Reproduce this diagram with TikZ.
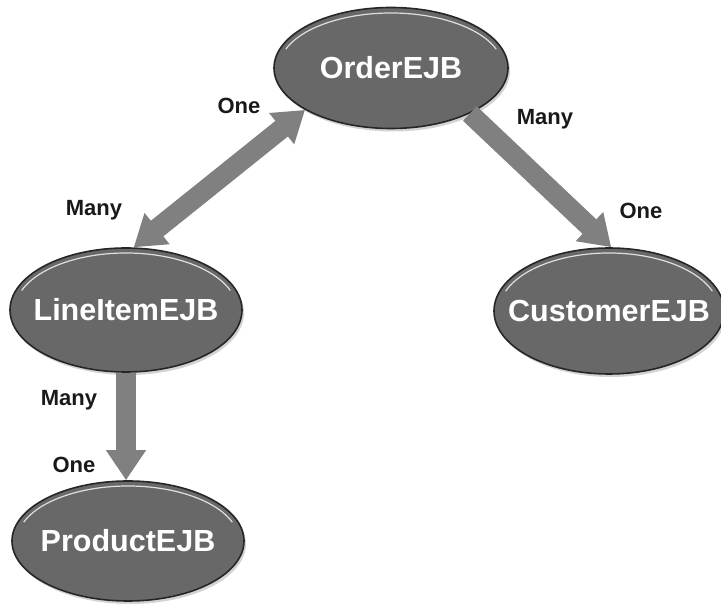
\documentclass[tikz,border=0pt]{standalone}
\usepackage{fontspec}
\setmainfont{Liberation Sans}
\usetikzlibrary{shapes.geometric,arrows.meta,shadows}
\definecolor{ejbgray}{RGB}{104,104,104}
\definecolor{linkgray}{RGB}{128,128,128}

\begin{document}
\begin{tikzpicture}[x=1pt,y=1pt,
	ejb/.style={ellipse,draw=black!85,line width=1.6pt,fill=ejbgray,inner sep=0pt,
		drop shadow={shadow xshift=2pt,shadow yshift=-3pt,opacity=.35},
		label={[ejblabel]center:#1}},
	ejblabel/.style={font=\bfseries\fontsize{30.5}{32}\selectfont,text=white},
	card/.style={font=\bfseries\fontsize{22}{24}\selectfont,text=black!90},
	rim/.style={draw=white!75!gray,line width=1.2pt},
	conn/.style={draw=linkgray,line width=20pt},
	>={Triangle[width=38pt,length=30pt]}]
\useasboundingbox (0,0) rectangle (721,608);

% the beans
\node[ejb=OrderEJB,minimum width=234pt,minimum height=121pt] (order) at (391,540) {};
\node[ejb=LineItemEJB,minimum width=232pt,minimum height=124pt] (lineitem) at (126,298) {};
\node[ejb=CustomerEJB,minimum width=230pt,minimum height=126pt] (customer) at (609,297) {};
\node[ejb=ProductEJB,minimum width=232pt,minimum height=120pt] (product) at (128,67) {};

\draw[rim] ([shift={(160:112pt and 55pt)}]order.center) arc[start angle=160,end angle=20,x radius=112pt,y radius=55pt];
\draw[rim] ([shift={(160:111pt and 57pt)}]lineitem.center) arc[start angle=160,end angle=20,x radius=111pt,y radius=57pt];
\draw[rim] ([shift={(160:110pt and 58pt)}]customer.center) arc[start angle=160,end angle=20,x radius=110pt,y radius=58pt];
\draw[rim] ([shift={(160:111pt and 55pt)}]product.center) arc[start angle=160,end angle=20,x radius=111pt,y radius=55pt];

% relations
\draw[conn,<->] (lineitem.83) -- (order.206);
\draw[conn,->] (order.330) -- (customer.88);
\draw[conn,->] (lineitem.south) -- (lineitem.south |- product.north);

% multiplicities
\node[card] (one1) at (239,502) {One};
\node[card] (many1) at (94,398) {Many};
\node[card] (many2) at (545,489) {Many};
\node[card] (one2) at (641,397) {One};
\node[card] (many3) at (69,208) {Many};
\node[card] (one3) at (74,143) {One};
\end{tikzpicture}
\end{document}
